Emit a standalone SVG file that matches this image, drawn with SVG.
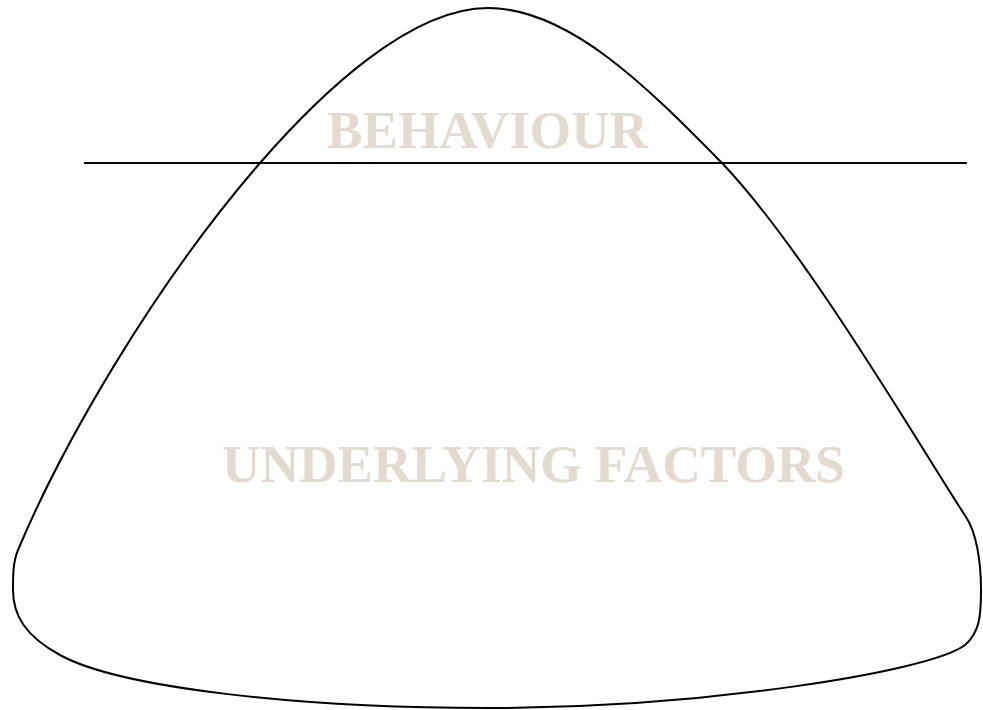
<svg xmlns="http://www.w3.org/2000/svg" width="983" height="710" viewBox="0 0 983 710">
<style>
.outline{fill:none;stroke:#000;stroke-width:2}
.label{font-family:"Liberation Serif","Times New Roman",serif;font-weight:bold;font-size:53px;fill:#e3dbcf}
</style>
<rect width="983" height="710" fill="#fff"/>
<g id="iceberg">
<path class="outline" d="M488,8 C570,8 650,90 722,163 C805,250 916,440 966,517 C976,532 981,560 981,590 C981,615 980,632 965,645 C930,672 700,708 488,708 C300,708 120,688 60,655 C25,636 13,615 13,590 C13,575 13,562 18,550 C60,450 150,290 260,163 C320,94 410,8 488,8 Z"/>
</g>
<g id="waterline">
<line class="outline" x1="84" y1="163" x2="967" y2="163"/>
</g>
<g id="behaviour">
<text class="label" x="327" y="148" textLength="321" lengthAdjust="spacingAndGlyphs">BEHAVIOUR</text>
</g>
<g id="underlying">
<text class="label" x="222" y="482" textLength="623" lengthAdjust="spacingAndGlyphs">UNDERLYING FACTORS</text>
</g>
</svg>
